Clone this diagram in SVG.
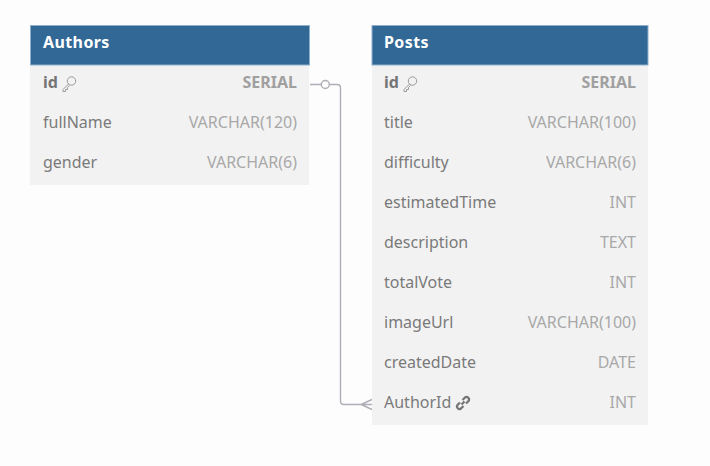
<svg xmlns="http://www.w3.org/2000/svg" width="710" height="466" viewBox="0 0 710 466">
<style>
text{font-family:"Noto Sans","Open Sans","Liberation Sans",sans-serif;font-size:16px;fill:#7a7a7a}
.h{font-weight:700;fill:#fff;letter-spacing:.4px}
.b{font-weight:700;fill:#757575}
.tb{font-weight:700;fill:#a0a0a0;text-anchor:end}
.t{fill:#a8a8a8;text-anchor:end}
.body{fill:#f2f2f2}
.head{fill:#316896;stroke:#8fb0cc;stroke-width:1}
.icon{fill:none;stroke:#9a9a9a;stroke-width:1}
.link{fill:none;stroke:#757575;stroke-width:2.200}
.conn{fill:none;stroke:#aeaeb6;stroke-width:1.400}
</style>
<defs>
<g id="key"><circle cx="3.500" cy="-3" r="4.200" class="icon"/><path class="icon" d="M.5 0L-5 5.500V7.500H-2.500V5.500H-.5V3.500L1.500 1.500"/></g>
<g id="chain"><path class="link" d="M-1.500 1.500L1.500-1.500M-.5-3L2-5.500A2.500 2.500 0 0 1 5.500-2L3 .5M.5 3L-2 5.500A2.500 2.500 0 0 1-5.500 2L-3-.5"/></g>
</defs>
<rect width="710" height="466" fill="#fdfdfd"/>
<g id="connectors">
<path class="conn" d="M310 84.500H321M329.500 84.500H337Q340.500 84.500 340.500 88V401Q340.500 404.500 344 404.500H372M372 399.500L361 404.500L372 409.500"/>
<circle class="conn" cx="325.300" cy="84.500" r="4"/>
</g>
<g id="Authors">
<rect class="body" x="30" y="65" width="279" height="120"/>
<rect class="head" x="30.500" y="25.500" width="279" height="39.500"/>
<text class="h" x="43" y="48">Authors</text>
<text class="b" x="43" y="88">id</text><use href="#key" x="68" y="84"/><text class="tb" x="297" y="88">SERIAL</text>
<text x="43" y="128">fullName</text><text class="t" x="297" y="128">VARCHAR(120)</text>
<text x="43" y="168">gender</text><text class="t" x="297" y="168">VARCHAR(6)</text>
</g>
<g id="Posts">
<rect class="body" x="372" y="65" width="276" height="360"/>
<rect class="head" x="372" y="25.500" width="276" height="39.500"/>
<text class="h" x="384" y="48">Posts</text>
<text class="b" x="384" y="88">id</text><use href="#key" x="409" y="84"/><text class="tb" x="636" y="88">SERIAL</text>
<text x="384" y="128">title</text><text class="t" x="636" y="128">VARCHAR(100)</text>
<text x="384" y="168">difficulty</text><text class="t" x="636" y="168">VARCHAR(6)</text>
<text x="384" y="208">estimatedTime</text><text class="t" x="636" y="208">INT</text>
<text x="384" y="248">description</text><text class="t" x="636" y="248">TEXT</text>
<text x="384" y="288">totalVote</text><text class="t" x="636" y="288">INT</text>
<text x="384" y="328">imageUrl</text><text class="t" x="636" y="328">VARCHAR(100)</text>
<text x="384" y="368">createdDate</text><text class="t" x="636" y="368">DATE</text>
<text x="384" y="408">AuthorId</text><use href="#chain" x="463" y="403"/><text class="t" x="636" y="408">INT</text>
</g>
</svg>
